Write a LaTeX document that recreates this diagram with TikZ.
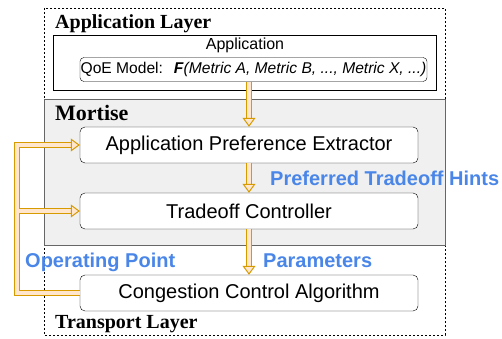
\documentclass[tikz,border=0pt]{standalone}
\usepackage{fontspec}
\setmainfont{Liberation Serif}
\setsansfont{Liberation Sans}
\usetikzlibrary{arrows.meta}
\definecolor{flowline}{HTML}{D79B00}
\definecolor{flowfill}{HTML}{FFE6CC}
\definecolor{hintblue}{HTML}{4A86E8}
\definecolor{mortisebg}{HTML}{F0F0F0}

\begin{document}
\begin{tikzpicture}[x=1pt, y=-1pt, every node/.style={inner sep=0pt},
  block/.style={draw, rounded corners=5pt, fill=white, minimum width=338pt, minimum height=36pt, font=\sffamily\fontsize{20}{24}\selectfont},
  layertitle/.style={anchor=base west, font=\bfseries\fontsize{20}{24}\selectfont},
  hint/.style={anchor=base west, text=hintblue, font=\sffamily\bfseries\fontsize{20}{24}\selectfont},
  flow/.style={draw=flowline, line width=1pt, double=flowfill, double distance=4pt, line join=miter,
    -{Triangle[length=9pt, width=13pt, fill=flowfill]}}]

    \useasboundingbox (0,0) rectangle (502,339);

    % layers
    \draw[dash pattern=on 2pt off 2pt, line width=0.8pt] (44,8) rectangle (445,335);
    \draw[draw=black!60, fill=mortisebg] (44,99) rectangle (445,245);

    \node[layertitle] (applayer) at (55,29) {Application Layer};
    \node[layertitle, font=\bfseries\fontsize{22}{26}\selectfont] (mortise) at (55,121) {Mortise};
    \node[layertitle] (translayer) at (55,328) {Transport Layer};

    % application
    \node[draw, minimum width=383pt, minimum height=55pt] (app) at (245,62.5) {};
    \node[anchor=base, font=\sffamily\fontsize{16}{19}\selectfont] (apptext) at (245,50) {Application};
    \node[draw, rounded corners=4pt, fill=white, minimum width=347pt, minimum height=24pt,
      font=\sffamily\fontsize{15.6}{19}\selectfont] (qoe) at (253.5,69.5)
      {QoE Model:\hspace{5pt} \textbf{\textit{F}}\textit{(Metric A, Metric B, ..., Metric X, ...)}\hspace{12pt}};

    % blocks
    \node[block] (ape) at (249,145) {Application Preference Extractor};
    \node[block] (tc) at (249,211) {Tradeoff Controller};
    \node[block] (cca) at (249,293) {Congestion Control Algorithm};

    % flows
    \draw[flow] (qoe.south -| ape.north) -- (ape.north);
    \draw[flow] (ape.south) -- (tc.north);
    \draw[flow] (tc.south) -- (cca.north);

    \coordinate (loop) at (17,0);
    \draw[flow] (cca.west) -| (loop |- ape.west) -- (ape.west);
    \draw[flow] ([xshift=2pt]loop |- tc.west) -- (tc.west);

    \node[hint] (hints) at (270,185) {Preferred Tradeoff Hints};
    \node[hint] (oppoint) at (25,267) {Operating Point};
    \node[hint] (params) at (263,267) {Parameters};
\end{tikzpicture}
\end{document}
